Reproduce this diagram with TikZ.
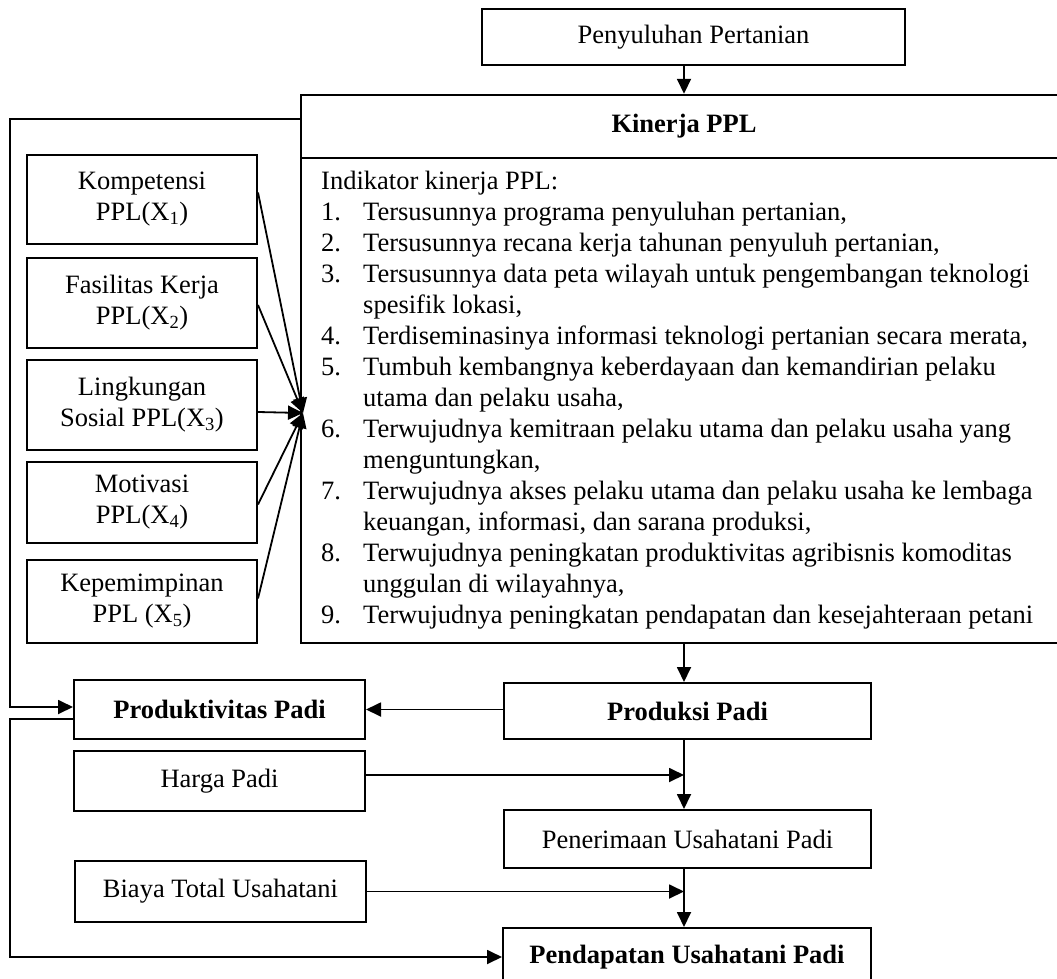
\documentclass[tikz,border=0pt]{standalone}
\usepackage{fontspec}
\setmainfont{Liberation Serif}
\usetikzlibrary{arrows.meta}
\newcommand\itmnum[1]{\makebox[42pt][l]{#1}}
\newcommand\itmcont{\hspace*{42pt}}
\begin{document}
\begin{tikzpicture}[x=1pt,y=-1pt,
  box/.style={draw,line width=2pt,inner sep=0pt,align=center,font=\fontsize{26.5}{31}\selectfont},
  boldbox/.style={box,font=\fontsize{26.5}{31}\selectfont\bfseries},
  arr/.style={line width=1.8pt,-{Triangle[length=15pt,width=14pt]}}]
\path[use as bounding box, clip] (0,0) rectangle (1057,979);

% top
\node[box,minimum width=423pt,minimum height=56pt] (peny) at (693.5,37) {Penyuluhan Pertanian};
\node[boldbox,minimum width=766pt,minimum height=63pt,line width=2.4pt] (kinhead) at (684,126.5) {Kinerja PPL};
\node[box,minimum width=766pt,minimum height=485pt,line width=2.4pt] (kinbody) at (684,400.5) {};
\node[anchor=north west,inner sep=0pt,font=\fontsize{26.5}{31}\selectfont] (ind) at (321,168) {%
\begin{tabular}{@{}l@{}}
Indikator kinerja PPL:\\
\itmnum{1.}Tersusunnya programa penyuluhan pertanian,\\
\itmnum{2.}Tersusunnya recana kerja tahunan penyuluh pertanian,\\
\itmnum{3.}Tersusunnya data peta wilayah untuk pengembangan teknologi\\
\itmcont spesifik lokasi,\\
\itmnum{4.}Terdiseminasinya informasi teknologi pertanian secara merata,\\
\itmnum{5.}Tumbuh kembangnya keberdayaan dan kemandirian pelaku\\
\itmcont utama dan pelaku usaha,\\
\itmnum{6.}Terwujudnya kemitraan pelaku utama dan pelaku usaha yang\\
\itmcont menguntungkan,\\
\itmnum{7.}Terwujudnya akses pelaku utama dan pelaku usaha ke lembaga\\
\itmcont keuangan, informasi, dan sarana produksi,\\
\itmnum{8.}Terwujudnya peningkatan produktivitas agribisnis komoditas\\
\itmcont unggulan di wilayahnya,\\
\itmnum{9.}Terwujudnya peningkatan pendapatan dan kesejahteraan petani
\end{tabular}};

% left variables
\node[box,minimum width=230pt,minimum height=89pt] (komp) at (142,199.5) {Kompetensi\\PPL(X\textsubscript{1})};
\node[box,minimum width=230pt,minimum height=90pt] (fas) at (142,303) {Fasilitas Kerja\\PPL(X\textsubscript{2})};
\node[box,minimum width=230pt,minimum height=90pt] (ling) at (142,405) {Lingkungan\\Sosial PPL(X\textsubscript{3})};
\node[box,minimum width=230pt,minimum height=81pt] (mot) at (142,502.5) {Motivasi\\PPL(X\textsubscript{4})};
\node[box,minimum width=230pt,minimum height=83pt] (kep) at (142,601.5) {Kepemimpinan\\PPL (X\textsubscript{5})};

\coordinate (tgt) at (303,413);
\draw[arr] ([yshift=7pt]komp.east) -- (tgt);
\draw[arr] ([yshift=-2pt]fas.east) -- (tgt);
\draw[arr] ([yshift=-7pt]ling.east) -- (tgt);
\draw[arr] ([yshift=-2pt]mot.east) -- (tgt);
\draw[arr] ([yshift=3pt]kep.east) -- (tgt);

% bottom
\node[boldbox,minimum width=291pt,minimum height=59pt] (prodv) at (219.5,709.5) {Produktivitas Padi};
\node[box,minimum width=291pt,minimum height=60pt] (harga) at (219.5,781) {Harga Padi};
\node[box,minimum width=291pt,minimum height=61pt] (biaya) at (220.5,891.5) {Biaya Total Usahatani};
\node[boldbox,minimum width=367pt,minimum height=56pt] (prod) at (687.5,711) {Produksi Padi};
\node[box,minimum width=367pt,minimum height=58pt] (pener) at (687.5,839) {Penerimaan Usahatani Padi};
\node[boldbox,minimum width=368pt,minimum height=58pt] (pend) at (687,957) {Pendapatan Usahatani Padi};

\coordinate (fbTop) at (10,119);
\coordinate (fbMid) at (10,719);

\draw[arr] (peny.south -| kinhead.north) -- (kinhead.north);
\draw[arr] ([yshift=7.5pt]kinhead.west) -- (fbTop) |- ([yshift=2.5pt]prodv.west);
\draw[arr] ([yshift=-9.5pt]prodv.west) -- (fbMid) |- (pend.west);
\draw[arr] (kinbody.south) -- (kinbody.south |- prod.north);
\draw[arr] (prod.west |- prodv.east) -- (prodv.east);
\draw[arr] (prod.south -| kinbody.south) -- (pener.north -| kinbody.south);
\draw[arr] ([yshift=6pt]harga.east) -- ([yshift=6pt]harga.east -| kinbody.south);
\draw[arr] (pener.south -| kinbody.south) -- (pend.north -| kinbody.south);
\draw[arr] (biaya.east) -- (biaya.east -| kinbody.south);
\end{tikzpicture}
\end{document}
